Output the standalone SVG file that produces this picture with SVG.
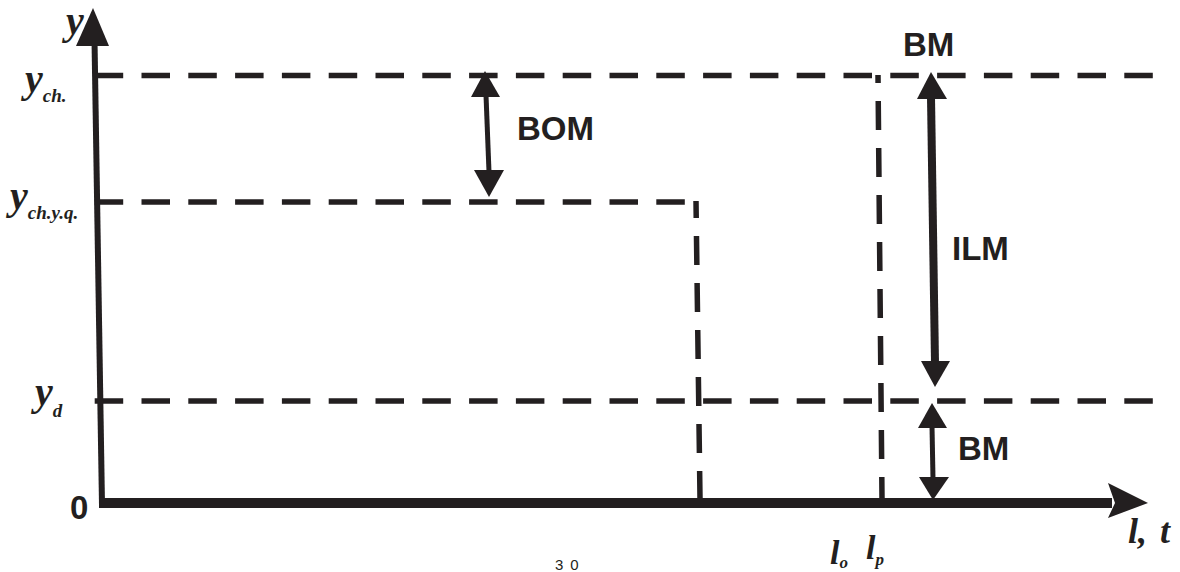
<svg xmlns="http://www.w3.org/2000/svg" width="1180" height="572" viewBox="0 0 1180 572">
<style>
.dash{stroke:#231f20;stroke-width:5.5;fill:none;stroke-dasharray:28.5 18.3}
.vdash{stroke:#231f20;stroke-width:5.5;fill:none;stroke-dasharray:29 18}
.ink{fill:#231f20}
.shaft{stroke:#231f20;fill:none}
.lbl{font-family:"Liberation Sans",Arial,sans-serif;font-weight:bold;font-size:33px;fill:#231f20}
.mi{font-family:"Liberation Serif","Times New Roman",serif;font-weight:bold;font-style:italic;fill:#231f20}
.pg{font-family:"Liberation Sans",Arial,sans-serif;font-size:15px;fill:#231f20;letter-spacing:7px}
</style>
<rect width="1180" height="572" fill="#fff"/>
<g id="gridlines">
<path class="dash" d="M94.7 75.5 H1160"/>
<path class="dash" d="M94.7 202 H688"/>
<path class="dash" d="M94.7 401 H1160"/>
<path class="vdash" d="M696 201 L700 498" stroke-dashoffset="12"/>
<path class="vdash" d="M878 75 L882 498" stroke-dashoffset="21"/>
</g>
<g id="axes">
<path class="shaft" d="M102 505 L94.5 40" stroke-width="6"/>
<polygon class="ink" points="93,8 76,46 109,46"/>
<path class="shaft" d="M99 503 H1112" stroke-width="10"/>
<polygon class="ink" points="1148,503 1108,483 1115,503 1108,518"/>
</g>
<g id="connectors">
<g id="arrow-BOM">
<path class="shaft" d="M486 95 L489 172" stroke-width="5"/>
<polygon class="ink" points="485,71 471,97 500,97"/>
<polygon class="ink" points="489,197 474,170 504,170"/>
</g>
<g id="arrow-ILM">
<path class="shaft" d="M931 97 L935 363" stroke-width="8"/>
<polygon class="ink" points="931,72 917,99 947,99"/>
<polygon class="ink" points="935,387 921,361 950,361"/>
</g>
<g id="arrow-BM">
<path class="shaft" d="M932 426 L933 479" stroke-width="5"/>
<polygon class="ink" points="932,403 918,428 947,428"/>
<polygon class="ink" points="933,500 919,477 949,477"/>
</g>
</g>
<g id="labels">
<text class="lbl" x="903" y="56">BM</text>
<text class="lbl" x="517" y="140">BOM</text>
<text class="lbl" x="952" y="260">ILM</text>
<text class="lbl" x="958" y="460">BM</text>
<text class="lbl" x="70" y="519" font-size="30">0</text>
<text class="mi" x="66" y="34" font-size="40">y</text>
<text class="mi" x="25" y="92" font-size="40">y<tspan font-size="19" dy="10">ch.</tspan></text>
<text class="mi" x="10" y="209" font-size="40">y<tspan font-size="19" dy="10">ch.y.q.</tspan></text>
<text class="mi" x="35" y="405" font-size="40">y<tspan font-size="19" dy="12">d</tspan></text>
<text class="mi" x="1128" y="543" font-size="36">l,<tspan x="1160">t</tspan></text>
<text class="mi" x="830" y="564" font-size="34">l<tspan font-size="17" dy="4">o</tspan></text>
<text class="mi" x="866" y="559" font-size="34">l<tspan font-size="17" dy="6">p</tspan></text>
<text class="pg" x="555" y="570">30</text>
</g>
</svg>
